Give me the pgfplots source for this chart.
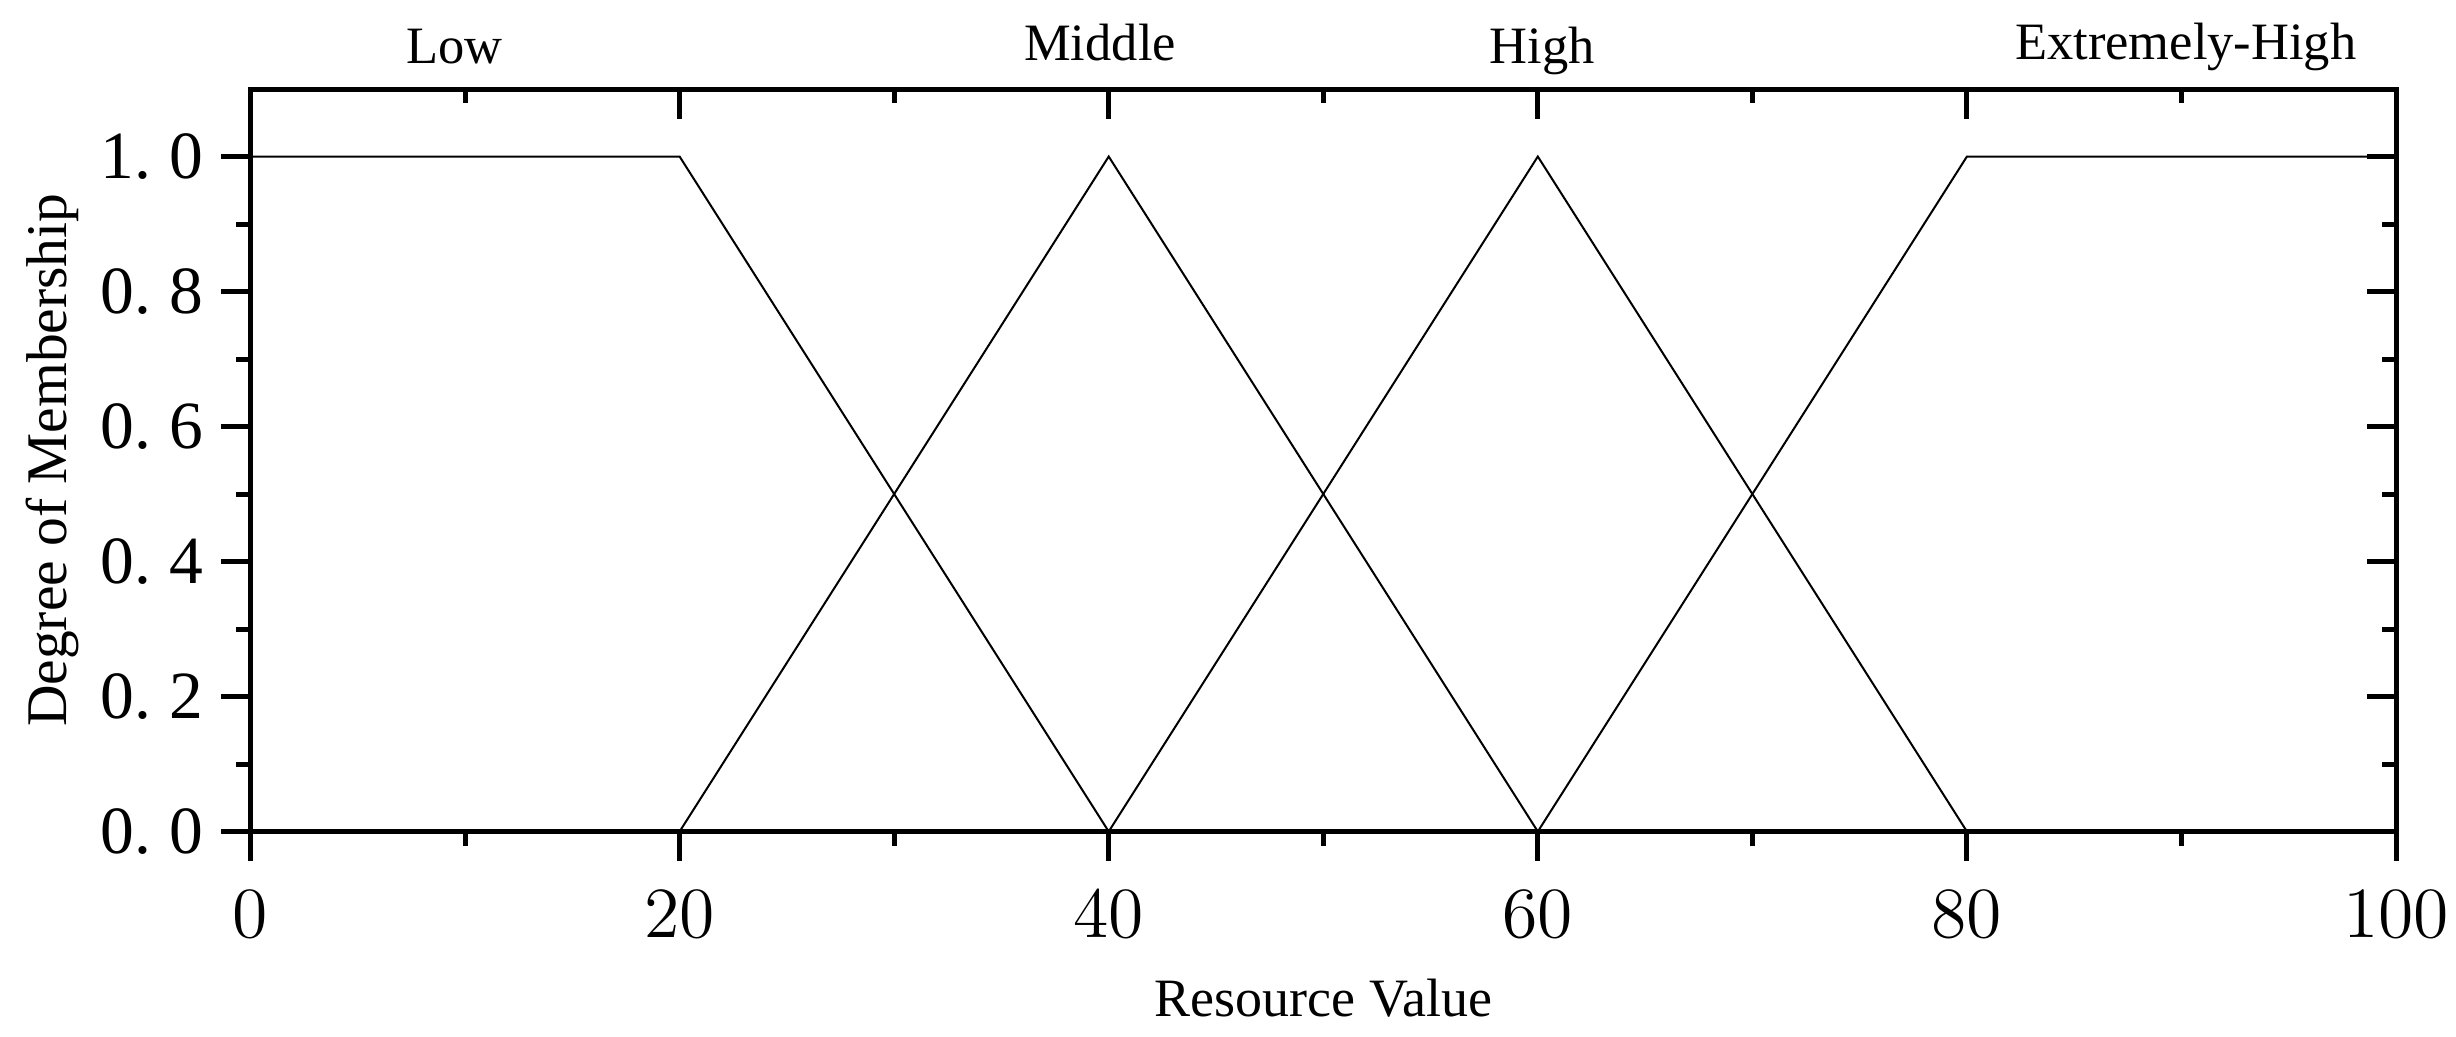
\documentclass[border=0pt]{standalone}
\usepackage{fontspec}
\setmainfont{Liberation Serif}
\usepackage{pgfplots}
\pgfplotsset{compat=1.18}

\pgfplotsset{
  membframe/.style={
    scale only axis, width=429.1pt, height=148.5pt,
    at={(0,0)}, anchor=south west,
    xmin=0, xmax=100, ymin=0, ymax=1.1,
    xtick={0,20,40,60,80,100}, ytick={0,0.2,0.4,0.6,0.8,1},
    minor x tick num=1, minor y tick num=1,
    axis line style={line width=1pt},
    tick style={black, line width=1pt},
    major tick length=5.9pt, minor tick length=2.8pt,
  },
}

\begin{document}
\begin{tikzpicture}
\useasboundingbox (-50.1pt,-40.9pt) rectangle (441.1pt,166.3pt);

% ticks on top and right point inwards
\begin{axis}[membframe, xtick pos=right, ytick pos=right, tick align=inside,
  xticklabels={}, yticklabels={}]
\end{axis}

\begin{axis}[membframe, xtick pos=left, ytick pos=left, tick align=outside, clip=false,
  tick label style={font=\fontsize{13.5}{15}\selectfont},
  xticklabel style={yshift=-2.5pt},
  yticklabels={0.\hspace{0.27em}0,0.\hspace{0.27em}2,0.\hspace{0.27em}4,0.\hspace{0.27em}6,0.\hspace{0.27em}8,1.\hspace{0.27em}0},
  xlabel={Resource Value},
  xlabel style={at={(axis description cs:0.5,-0.225)}, anchor=center, font=\fontsize{10.8}{12}\selectfont},
  ylabel={Degree of Membership},
  ylabel style={at={(axis description cs:-0.0925,0.5)}, anchor=center, font=\fontsize{11.5}{13}\selectfont},
  cycle list={{black, line width=0.4pt, mark=none}}]

\addplot coordinates {(0,1) (20,1) (40,0)};
\addplot coordinates {(20,0) (40,1) (60,0)};
\addplot coordinates {(40,0) (60,1) (80,0)};
\addplot coordinates {(60,0) (80,1) (100,1)};

\begin{scope}[font=\fontsize{10.5}{12}\selectfont]
\node[anchor=base, yshift=5.2pt] at (axis cs:9.5,1.1) {Low};
\node[anchor=base, yshift=5.8pt] at (axis cs:39.6,1.1) {Middle};
\node[anchor=base, yshift=5.2pt] at (axis cs:60.2,1.1) {High};
\node[anchor=base, yshift=6pt] at (axis cs:90.2,1.1) {Extremely-High};
\end{scope}
\end{axis}
\end{tikzpicture}
\end{document}
